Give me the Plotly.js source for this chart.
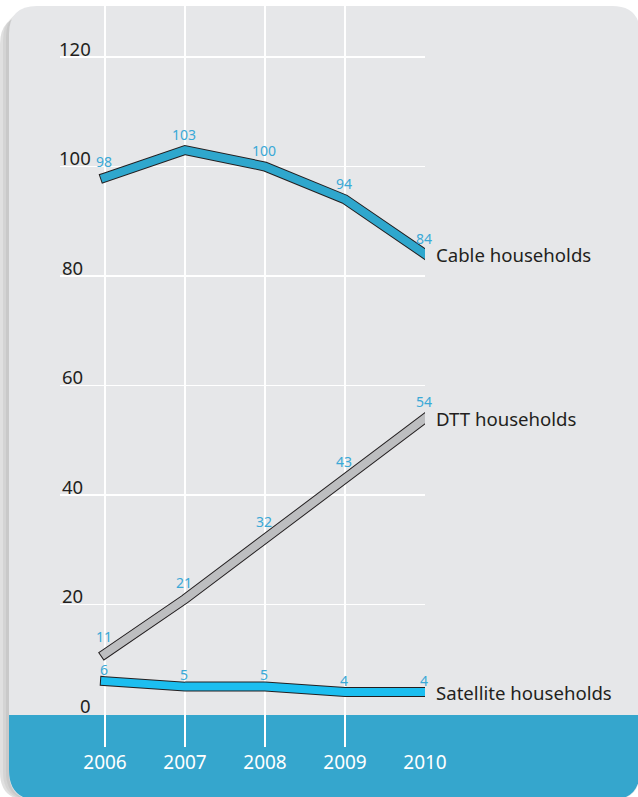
<!DOCTYPE html>
<html>
<head>
<meta charset="utf-8">
<script src="https://cdn.plot.ly/plotly-3.0.1.min.js"></script>
<style>html,body{margin:0;padding:0;background:#fff;}#chart{width:638px;height:797px;}</style>
</head>
<body>
<div id="chart"></div>
<script>
// ---- data ----
const years = [2006, 2007, 2008, 2009, 2010];
const yearLabels = ['2006', '2007', '2008', '2009', '2010'];
const cable = [98, 103, 100, 94, 84];
const dtt = [11, 21, 32, 43, 54];
const satellite = [6, 5, 5, 4, 4];
const seriesNames = ['Cable households', 'DTT households', 'Satellite households'];
const yTickVals = [0, 20, 40, 60, 80, 100, 120];
const yTickText = ['0', '20', '40', '60', '80', '100', '120'];

// ---- styling ----
const W = 638, H = 797;
const M = {l: 60, r: 213, t: 6, b: 50};
const PW = W - M.l - M.r, PH = H - M.t - M.b;
const px = p => (p - M.l) / PW;
const py = p => 1 - (p - M.t) / PH;
const P = (x, y) => px(x) + ',' + py(y);

const FONT = 'Noto Sans, Open Sans, sans-serif';
const DARK = '#231f20';
const LABEL_BLUE = '#3aa9d7';

const series = [
  {vals: cable, name: seriesNames[0], fill: '#2fa7cd', shift: 16},
  {vals: dtt, name: seriesNames[1], fill: '#bdbec0', shift: 17},
  {vals: satellite, name: seriesNames[2], fill: '#1cbef0', shift: 12}
];

const traces = [];
series.forEach(s => {
  traces.push({x: years, y: s.vals, mode: 'lines', line: {color: DARK, width: 10},
    hoverinfo: 'skip', showlegend: false, cliponaxis: false});
  traces.push({x: years, y: s.vals, mode: 'lines', line: {color: s.fill, width: 8},
    name: s.name, showlegend: false, cliponaxis: false});
});

const annotations = [];
series.forEach(s => {
  s.vals.forEach((v, i) => {
    annotations.push({x: years[i], y: v, xref: 'x', yref: 'y', text: String(v),
      showarrow: false, yshift: s.shift, xshift: -1,
      font: {family: FONT, size: 14, color: LABEL_BLUE}});
  });
  const last = s.vals.length - 1;
  annotations.push({x: years[last], y: s.vals[last], xref: 'x', yref: 'y', text: s.name,
    showarrow: false, xanchor: 'left', xshift: 9, yshift: 0,
    font: {family: FONT, size: 18.6, color: DARK}});
});
yTickVals.forEach((v, i) => {
  const rightAligned = (v >= 100 || v === 0);
  annotations.push({x: rightAligned ? px(93) : 0, y: v, xref: 'paper', yref: 'y',
    text: yTickText[i], showarrow: false, xanchor: rightAligned ? 'right' : 'left',
    yanchor: 'middle', yshift: 9, font: {family: FONT, size: 18.5, color: DARK}});
});

function panelPath(dx, top) {
  const L = 9 + dx, T = top, R = 640 + dx, B = 800, r = 28;
  return 'M' + P(L, T + r) + ' Q' + P(L, T) + ' ' + P(L + r, T) +
    ' L' + P(R - r, T) + ' Q' + P(R, T) + ' ' + P(R, T + r) +
    ' L' + P(R, B - r) + ' Q' + P(R, B) + ' ' + P(R - r, B) +
    ' L' + P(L + r, B) + ' Q' + P(L, B) + ' ' + P(L, B - r) + ' Z';
}
function bandPath() {
  const L = 9, T = 715, R = 640, B = 800, r = 30;
  return 'M' + P(L, T) + ' L' + P(R, T) + ' L' + P(R, B - r) + ' Q' + P(R, B) + ' ' + P(R - r, B) +
    ' L' + P(L + r, B) + ' Q' + P(L, B) + ' ' + P(L, B - r) + ' Z';
}

const shapes = [
  {type: 'path', xref: 'paper', yref: 'paper', layer: 'below', path: panelPath(-9, 16), fillcolor: 'rgba(0,0,0,0.12)', line: {width: 0}},
  {type: 'path', xref: 'paper', yref: 'paper', layer: 'below', path: panelPath(-6, 12), fillcolor: 'rgba(0,0,0,0.05)', line: {width: 0}},
  {type: 'path', xref: 'paper', yref: 'paper', layer: 'below', path: panelPath(-3, 9), fillcolor: 'rgba(0,0,0,0.05)', line: {width: 0}},
  {type: 'path', xref: 'paper', yref: 'paper', layer: 'below', path: panelPath(0, 6), fillcolor: '#e6e7e9', line: {width: 0}},
  {type: 'path', xref: 'paper', yref: 'paper', layer: 'below', path: bandPath(), fillcolor: '#35a6cd', line: {width: 0}}
];

const k = 657 / 120; // px per unit
const yTop = 120 + (57 - M.t) / k;
const yBot = yTop - PH / k;
const xLeft = 2006 - (105 - M.l) / 80;

const layout = {
  width: W, height: H,
  margin: M,
  paper_bgcolor: '#ffffff',
  plot_bgcolor: 'rgba(0,0,0,0)',
  showlegend: false,
  xaxis: {range: [xLeft, 2010], tickvals: years, ticktext: yearLabels, showgrid: true,
    gridcolor: '#ffffff', gridwidth: 1.5, zeroline: false, showline: false, ticks: '',
    tickfont: {family: FONT, size: 19, color: '#ffffff'}, ticklabelstandoff: 2, fixedrange: true},
  yaxis: {range: [yBot, yTop], tickvals: yTickVals.slice(1), showticklabels: false, showgrid: true,
    gridcolor: '#ffffff', gridwidth: 1.5, zeroline: false, showline: false, ticks: '', fixedrange: true},
  shapes: shapes,
  annotations: annotations
};

Plotly.newPlot('chart', traces, layout, {displayModeBar: false, staticPlot: true}).then(() => {
  document.querySelectorAll('.scatterlayer .js-line').forEach(p => {
    p.style.strokeLinecap = 'square';
    p.style.strokeLinejoin = 'miter';
  });
});
</script>
</body>
</html>
